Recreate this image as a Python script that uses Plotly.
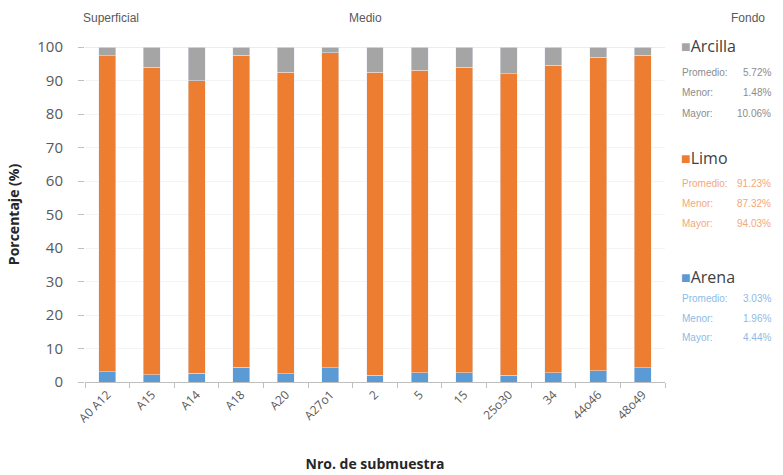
import plotly.graph_objects as go

# Sub-sample identifiers (x axis)
muestras = ["A0 A12", "A15", "A14", "A18", "A20", "A27o1", "2", "5", "15",
            "25o30", "34", "44o46", "48o49"]

# Grain-size fractions (%) per sub-sample
arena = [3.0, 2.1, 2.6, 4.44, 2.5, 4.3, 2.0, 2.7, 2.8, 1.96, 2.8, 3.4, 4.3]
arcilla = [2.6, 6.0, 10.06, 2.5, 7.5, 1.67, 7.6, 7.0, 6.0, 8.0, 5.5, 3.0, 2.5]
limo = [round(100 - a - c, 2) for a, c in zip(arena, arcilla)]

# Summary texts shown beside the chart
resumen = {
    "Arcilla": ["5.72%", "1.48%", "10.06%"],
    "Limo": ["91.23%", "87.32%", "94.03%"],
    "Arena": ["3.03%", "1.96%", "4.44%"],
}
etiquetas_resumen = ["Promedio:", "Menor:", "Mayor:"]
zonas = ["Superficial", "Medio", "Fondo"]

C_ARENA = "#5B9BD5"
C_LIMO = "#ED7D31"
C_ARCILLA = "#A5A5A5"

fig = go.Figure()
fig.add_trace(go.Bar(x=muestras, y=arena, name="Arena", marker_color=C_ARENA))
fig.add_trace(go.Bar(x=muestras, y=limo, name="Limo", marker_color=C_LIMO))
fig.add_trace(go.Bar(x=muestras, y=arcilla, name="Arcilla", marker_color=C_ARCILLA))

W, H = 783, 475
L, R, T, B = 85, 665, 47, 382


def px(x):
    return (x - L) / (R - L)


def py(y):
    return (B - y) / (B - T)


ann = []
NARROW = "Liberation Sans Narrow, Liberation Sans"
# Zone labels above the plot
for texto, xpos, anchor in zip(zonas, [81, 365, 767], ["left", "center", "right"]):
    ann.append(dict(x=px(xpos), y=py(18), xref="paper", yref="paper", text=texto,
                    showarrow=False, xanchor=anchor, yanchor="middle",
                    font=dict(size=12, color="#595959", family=NARROW)))

# Side legend with statistics
bloques = [("Arcilla", C_ARCILLA, "#8c8c8c", 46, [72, 92, 113]),
           ("Limo", C_LIMO, "#F4A77A", 158, [183, 203, 223]),
           ("Arena", C_ARENA, "#8DBBE6", 277, [298, 318, 337])]
for nombre, col, col_txt, yt, ys in bloques:
    ann.append(dict(x=px(679), y=py(yt), xref="paper", yref="paper",
                    text=f"<span style='color:{col}'>■</span>{nombre}",
                    showarrow=False, xanchor="left", yanchor="middle",
                    font=dict(size=16, color="#404040", family="Open Sans")))
    for etq, val, yy in zip(etiquetas_resumen, resumen[nombre], ys):
        ann.append(dict(x=px(680), y=py(yy), xref="paper", yref="paper", text=etq,
                        showarrow=False, xanchor="left", yanchor="middle",
                        font=dict(size=10, color=col_txt, family=NARROW)))
        ann.append(dict(x=px(773), y=py(yy), xref="paper", yref="paper", text=val,
                        showarrow=False, xanchor="right", yanchor="middle",
                        font=dict(size=10, color=col_txt, family=NARROW)))

fig.update_layout(
    width=W, height=H,
    margin=dict(l=L, r=W - R, t=T, b=H - B),
    barmode="stack", bargap=0.62,
    plot_bgcolor="white", paper_bgcolor="white",
    showlegend=False,
    font=dict(family="Open Sans", color="#404040"),
    annotations=ann,
    xaxis=dict(
        automargin=False,
        tickangle=-45, tickfont=dict(size=12, color="#595959"),
        showline=True, linecolor="#BFBFBF", linewidth=1,
        ticks="outside", ticklen=5, tickcolor="#BFBFBF",
        tickson="boundaries",
        title=dict(text="<b>Nro. de submuestra</b>", font=dict(size=14, color="#262626"), standoff=34),
    ),
    yaxis=dict(
        automargin=False,
        range=[0, 100], dtick=10,
        tickfont=dict(size=15, color="#595959"),
        showgrid=True, gridcolor="#F4F4F4",
        showline=False, zeroline=False,
        ticks="outside", ticklen=6, tickcolor="#BFBFBF",
        ticklabelstandoff=12,
        title=dict(text="<b>Porcentaje (%)</b>", font=dict(size=14, color="#262626"), standoff=14),
    ),
)
fig.add_shape(type="line", xref="paper", yref="y", x0=0, x1=1, y0=100, y1=100,
              line=dict(color="#D9D9D9", width=1))

fig.write_html("out.html")
